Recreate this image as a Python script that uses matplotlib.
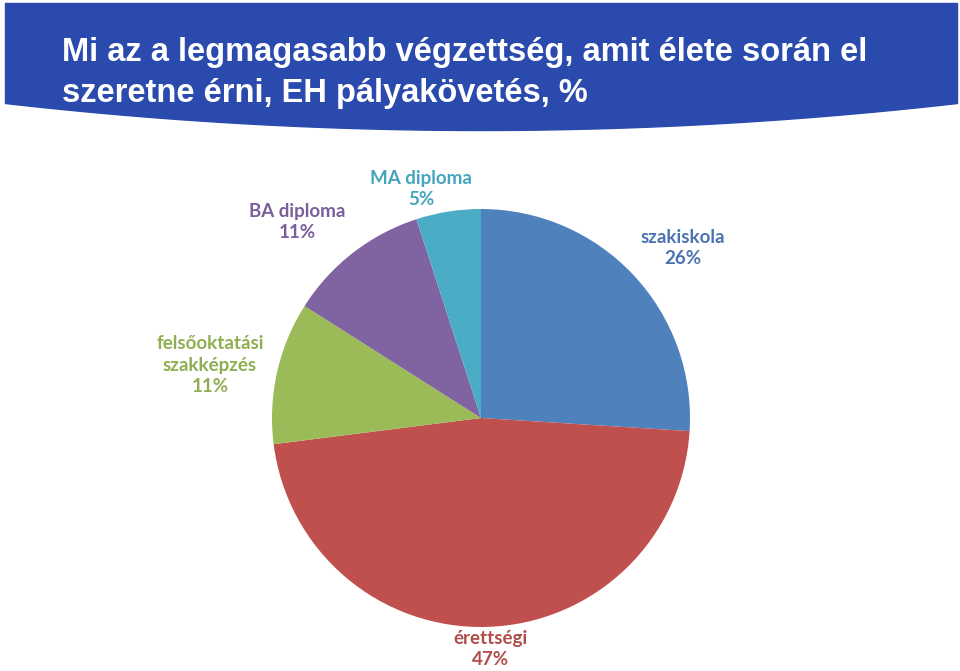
import numpy as np
import matplotlib.pyplot as plt

# data
categories = ["szakiskola", "érettségi", "felsőoktatási\nszakképzés", "BA diploma", "MA diploma"]
shares = [26, 47, 11, 11, 5]
colors = ["#4F81BD", "#C0504D", "#9BBB59", "#8064A2", "#4BACC6"]
label_colors = ["#4A73B0", "#B04C4A", "#8FAE52", "#7A5F9A", "#46A5BE"]
title = "Mi az a legmagasabb végzettség, amit élete során el\nszeretne érni, EH pályakövetés, %"

W, H = 960, 671
fig = plt.figure(figsize=(W / 100, H / 100), dpi=100)
ax = fig.add_axes([0, 0, 1, 1])
ax.set_xlim(0, W)
ax.set_ylim(H, 0)
ax.axis("off")

# title banner with curved bottom
xs = np.linspace(5, 957, 200)
bottom = 103 + 27 * (1 - ((xs - 481) / 476) ** 2)
ax.fill_between(xs, 3, bottom, color="#2A4AAE", zorder=1)

ax.text(62, 73, title, color="white", fontsize=23.5, fontweight="bold",
        family="Liberation Sans", va="center", ha="left",
        linespacing=1.4, zorder=2)

# pie in its own axes (equal aspect)
cx, cy, r = 481, 418, 209
pax = fig.add_axes([(cx - r) / W, 1 - (cy + r) / H, 2 * r / W, 2 * r / H])
wedges, _ = pax.pie(shares, colors=colors, startangle=90, counterclock=False,
                    wedgeprops=dict(linewidth=0))
pax.set_xlim(-1, 1)
pax.set_ylim(-1, 1)
pax.set_aspect("equal")
pax.axis("off")

# label anchor points (pixels), Excel "best fit" style
label_pos = [(683, 248), (491, 649), (210, 365), (297, 222), (421, 189)]
for name, val, col, (lx, ly) in zip(categories, shares, label_colors, label_pos):
    ax.text(lx, ly, f"{name}\n{val}%", color=col, fontsize=13.5, fontweight="bold",
            family=["Lato", "DejaVu Sans"], ha="center", va="center",
            linespacing=1.3, zorder=3)

fig.savefig("out.png", dpi=100)
